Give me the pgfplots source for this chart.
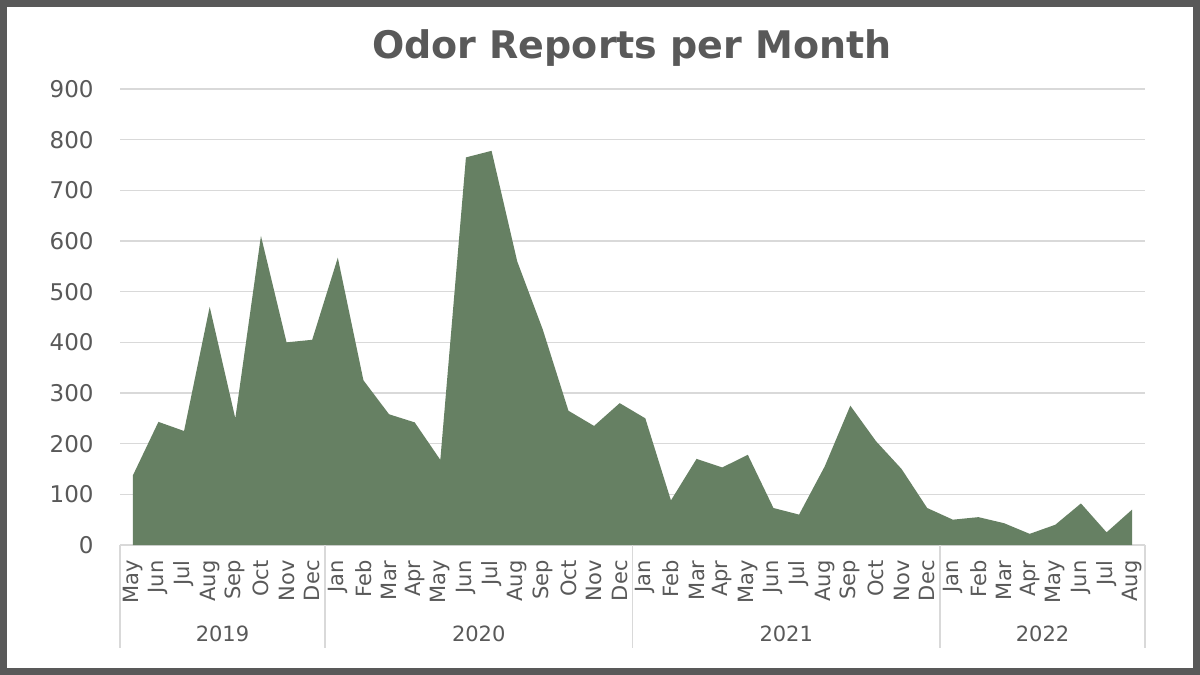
\documentclass[border=0pt]{standalone}
\usepackage{pgfplots}
\pgfplotsset{compat=1.18}
\usepackage{fontspec}
\setmainfont{DejaVu Sans}
\definecolor{areagreen}{RGB}{102,128,99}
\definecolor{txtgray}{RGB}{89,89,89}
\definecolor{gridgray}{RGB}{217,217,217}
\definecolor{framegray}{RGB}{89,89,89}
\begin{document}
\begin{tikzpicture}[x=1pt,y=1pt]
% frame
\fill[framegray] (0,0) rectangle (600,337.5);
\fill[white] (3.5,3.5) rectangle (596.5,334);
\node[text=txtgray, font=\fontsize{19}{22}\selectfont\bfseries] at (316,313.5) {Odor Reports per Month};
\begin{axis}[
  at={(60pt,65pt)}, anchor=south west,
  scale only axis, width=512.5pt, height=228pt,
  xmin=-0.5, xmax=39.5, ymin=0, ymax=900,
  ytick={0,100,...,900},
  xtick={0,...,39},
  xticklabels={May,Jun,Jul,Aug,Sep,Oct,Nov,Dec,Jan,Feb,Mar,Apr,May,Jun,Jul,Aug,Sep,Oct,Nov,Dec,Jan,Feb,Mar,Apr,May,Jun,Jul,Aug,Sep,Oct,Nov,Dec,Jan,Feb,Mar,Apr,May,Jun,Jul,Aug},
  ymajorgrids, grid style={gridgray, line width=0.6pt},
  axis line style={draw=none},
  major tick length=0pt,
  /pgf/number format/assume math mode=true,
  yticklabel style={anchor=east, inner sep=0pt, xshift=-13pt, text=txtgray, font=\fontsize{11.5}{13}\selectfont},
  xticklabel style={yshift=-7.5pt, rotate=90, anchor=east, inner sep=0pt, text=txtgray, font=\fontsize{10.5}{12}\selectfont},
  clip=false,
]
\addplot[fill=areagreen, draw=none] coordinates {
(0,137) (1,243) (2,225) (3,470) (4,250) (5,610) (6,400) (7,405)
(8,567) (9,325) (10,258) (11,242) (12,168) (13,765) (14,778) (15,560)
(16,425) (17,265) (18,235) (19,280)
(20,250) (21,88) (22,170) (23,153) (24,178) (25,73) (26,60) (27,155)
(28,275) (29,205) (30,150) (31,73)
(32,50) (33,55) (34,43) (35,22) (36,40) (37,82) (38,25) (39,70)
} \closedcycle;
\pgfplotsinvokeforeach{-0.5,7.5,19.5,31.5,39.5}{
  \draw[gridgray, line width=0.6pt] (axis cs:#1,0) -- ([yshift=-51.5pt]axis cs:#1,0);
}
\node[text=txtgray, font=\fontsize{10.5}{12}\selectfont] at ([yshift=-44.5pt]axis cs:3.5,0) {2019};
\node[text=txtgray, font=\fontsize{10.5}{12}\selectfont] at ([yshift=-44.5pt]axis cs:13.5,0) {2020};
\node[text=txtgray, font=\fontsize{10.5}{12}\selectfont] at ([yshift=-44.5pt]axis cs:25.5,0) {2021};
\node[text=txtgray, font=\fontsize{10.5}{12}\selectfont] at ([yshift=-44.5pt]axis cs:35.5,0) {2022};
\end{axis}
\end{tikzpicture}
\end{document}
